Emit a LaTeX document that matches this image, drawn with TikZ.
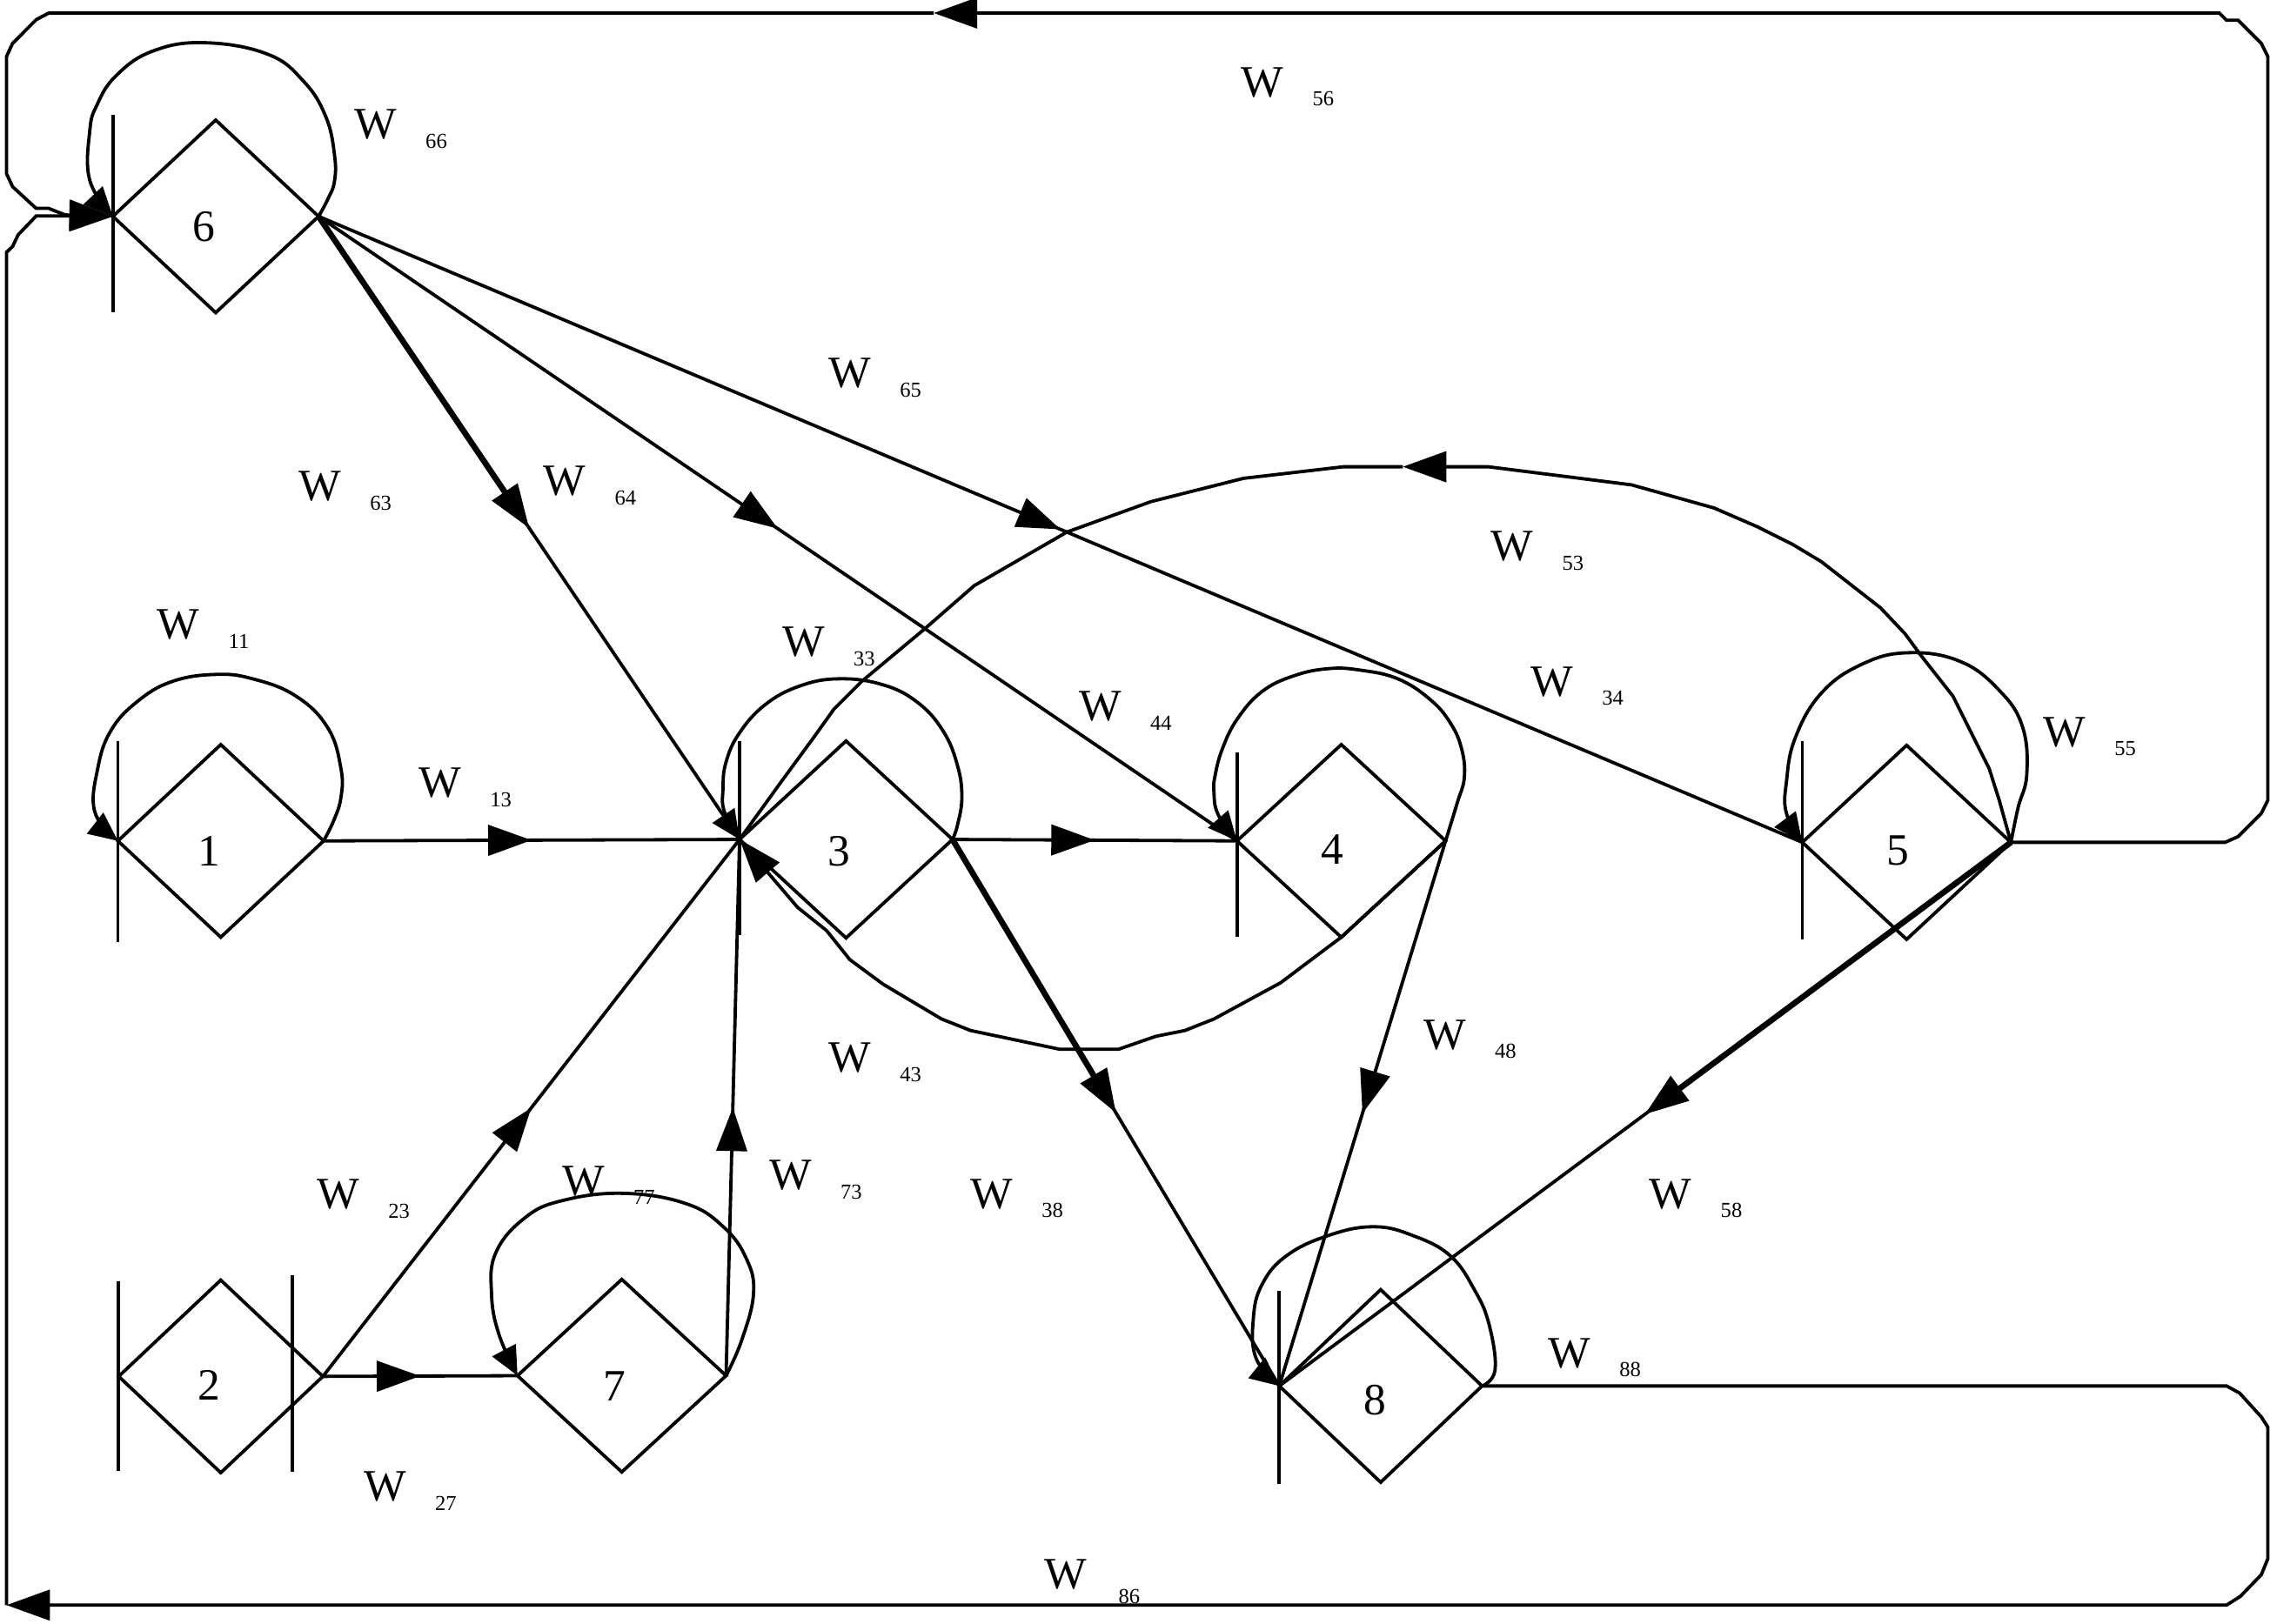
\documentclass[tikz,border=0pt]{standalone}
\usepackage{fontspec}
\setmainfont{Liberation Serif}
\usetikzlibrary{shapes.geometric,arrows.meta,decorations.markings,calc}
\tikzset{
  ln/.style={line width=0.65pt, line join=miter},
  thk/.style={line width=1.15pt},
  dia/.style={draw, diamond, minimum width=1.42cm, minimum height=1.33cm, inner sep=0pt, outer sep=0pt, line width=0.65pt},
  numtxt/.style={font=\fontsize{8.8}{10}\selectfont, inner sep=0pt},
  wtxt/.style={font=\fontsize{8.8}{10}\selectfont, inner sep=0pt},
  stxt/.style={font=\fontsize{4.2}{5}\selectfont, inner sep=0pt},
  ea/.style={-{Triangle[length=0.3cm,width=0.21cm]}},
  la/.style={-{Triangle[length=0.2cm,width=0.18cm]}},
  midarrow/.style={postaction={decorate}, decoration={markings, mark=at position #1 with {\arrow{Triangle[length=0.3cm,width=0.21cm]}}}},
}
\newcommand\wlab[3]{\node[wtxt] (w#1) at (#2,#3) {W}; \node[stxt] (s#1) at ($(w#1)+(42,11.5)$) {#1};}
\begin{document}
\begin{tikzpicture}[x=0.01cm, y=-0.01cm]
\useasboundingbox (0,0) rectangle (1568,1121.5);

% nodes
\node[dia] (n6) at (149,149.5) {};
\node[dia] (n1) at (152.5,581) {};
\node[dia, minimum width=1.47cm, minimum height=1.36cm] (n3) at (584.4,580) {};
\node[dia, minimum width=1.44cm] (n4) at (926.5,581) {};
\node[dia, minimum width=1.44cm, minimum height=1.34cm] (n5) at (1317,582) {};
\node[dia, minimum width=1.41cm] (n2) at (152.5,951) {};
\node[dia, minimum width=1.44cm] (n7) at (429.5,950.5) {};
\node[dia, minimum width=1.40cm] (n8) at (953.7,957.6) {};

\node[numtxt] at ([shift={(-8,7)}]n6.center) {6};
\node[numtxt] at ([shift={(-8,7)}]n1.center) {1};
\node[numtxt] at ([shift={(-5,8)}]n3.center) {3};
\node[numtxt] at ([shift={(-6,6)}]n4.center) {4};
\node[numtxt] at ([shift={(-6,6)}]n5.center) {5};
\node[numtxt] at ([shift={(-8,6)}]n2.center) {2};
\node[numtxt] at ([shift={(-5,7)}]n7.center) {7};
\node[numtxt] at ([shift={(-4,10)}]n8.center) {8};

% bars
\draw[ln] ([shift={(0,-70)}]n6.west) -- ([shift={(0,66)}]n6.west);
\draw[ln] ([shift={(0,-69)}]n1.west) -- ([shift={(0,70)}]n1.west);
\draw[ln] ([shift={(0,-68)}]n3.west) -- ([shift={(0,66)}]n3.west);
\draw[ln] ([shift={(0,-61)}]n4.west) -- ([shift={(0,66)}]n4.west);
\draw[ln] ([shift={(0,-70)}]n5.west) -- ([shift={(0,67)}]n5.west);
\draw[ln] ([shift={(0,-66)}]n8.west) -- ([shift={(0,68)}]n8.west);
\draw[ln] ([shift={(0,-66)}]n2.west) -- ([shift={(0,65)}]n2.west);
\draw[ln] ([shift={(-21,-70)}]n2.east) -- ([shift={(-21,66)}]n2.east);

% straight edges
\draw[ln, midarrow=0.5] (n1.east) -- (n3.west);
\draw[ln, midarrow=0.5] (n3.east) -- (n4.west);
\draw[ln, midarrow=0.5] (n2.east) -- (n7.west);
\draw[ln, midarrow=0.5] (n2.east) -- (n3.west);
\draw[ln, midarrow=0.5] (n7.east) -- (n3.west);
\draw[ln, midarrow=0.5] (n6.east) -- (n3.west);
\draw[ln, midarrow=0.5] (n6.east) -- (n4.west);
\draw[ln, midarrow=0.5] (n6.east) -- (n5.west);
\draw[ln, midarrow=0.5] (n3.east) -- (n8.west);
\draw[ln, midarrow=0.5] (n4.east) -- (n8.west);
\draw[ln, midarrow=0.5] (n5.east) -- (n8.west);
\draw[thk] (n6.east) -- ($(n6.east)!0.47!(n3.west)$);
\draw[thk] (n3.east) -- ($(n3.east)!0.47!(n8.west)$);
\draw[thk] (n5.east) -- ($(n5.east)!0.47!(n8.west)$);

% W43
\draw[ln, ea] (n4.east) -- (n4.south) -- (884.6,679) -- (838.6,704) -- (818.5,712) -- (798.4,716) -- (772.5,725) -- (732.2,725) -- (670.4,712) -- (650.3,704) -- (610,680) -- (587,663) -- (571,643) -- (551,627) -- (n3.west);

% W53
\coordinate (a53) at (969,322.5);
\draw[ln, ea] (n5.east) -- (1381,553) -- (1374,531) -- (1349,481) -- (1327,453) -- (1316,438) -- (1299,420) -- (1258,388) -- (1238,376) -- (1214,364) -- (1184,351) -- (1127,335) -- (1028,322.5) -- (a53);
\draw[ln] (a53) -- (928,322.5) -- (859,330.5) -- (795,346.6) -- (737,367.6) -- (673,404.6) -- (638.5,434.7) -- (595,471) -- (576,490) -- (561,511) -- (539,541) -- (n3.west);

% W56
\coordinate (a56) at (645,9);
\draw[ln, ea] (n5.east) -- (1537,582) -- (1546,578) -- (1562,562) -- (1566.5,553) -- (1566.5,39) -- (1562,30) -- (1546,14) -- (1538,14) -- (1533,9) -- (a56);
\draw[ln, ea] (a56) -- (33.7,9) -- (25,13.6) -- (8.7,30) -- (4.5,39) -- (4.5,120) -- (8.7,129) -- (25,144) -- (33.7,144) -- (45,148.5) -- (n6.west);

% W86
\coordinate (b86) at (4.5,1109);
\draw[ln, ea] (n8.east) -- (1538,957.6) -- (1547,962.5) -- (1562,979) -- (1566.5,986) -- (1566.5,1077) -- (1562,1088) -- (1547.5,1103) -- (1538,1109) -- (b86);
\draw[ln, ea] (b86) -- (4.5,174.3) -- (8.7,170.3) -- (12.5,162.3) -- (25,149.2) -- (45,149.2) -- (n6.west);

% loops
\draw[ln, la] plot[smooth, tension=0.7] coordinates {(n1.east) ([shift={(78,-14)}]n1.center) ([shift={(83,-30)}]n1.center) ([shift={(83,-50)}]n1.center) ([shift={(74,-78)}]n1.center) ([shift={(52,-100)}]n1.center) ([shift={(22,-112)}]n1.center) ([shift={(-4,-115)}]n1.center) ([shift={(-34,-110)}]n1.center) ([shift={(-58,-96)}]n1.center) ([shift={(-76,-76)}]n1.center) ([shift={(-85,-50)}]n1.center) ([shift={(-87,-20)}]n1.center) (n1.west)};
\draw[ln, la] plot[smooth, tension=0.7] coordinates {(n3.east) ([shift={(77,-10)}]n3.center) ([shift={(80,-29)}]n3.center) ([shift={(77,-51)}]n3.center) ([shift={(67,-75)}]n3.center) ([shift={(49,-95)}]n3.center) ([shift={(25,-107)}]n3.center) ([shift={(-5,-111)}]n3.center) ([shift={(-32,-106)}]n3.center) ([shift={(-56,-93)}]n3.center) ([shift={(-74,-73)}]n3.center) ([shift={(-83,-53)}]n3.center) ([shift={(-85,-35)}]n3.center) ([shift={(-84,-19)}]n3.center) (n3.west)};
\draw[ln, la] plot[smooth, tension=0.7] coordinates {(n4.east) ([shift={(80,-26)}]n4.center) ([shift={(85,-44)}]n4.center) ([shift={(83,-64)}]n4.center) ([shift={(75,-82)}]n4.center) ([shift={(61,-98)}]n4.center) ([shift={(39,-112)}]n4.center) ([shift={(13,-118)}]n4.center) ([shift={(-9,-119)}]n4.center) ([shift={(-33,-114)}]n4.center) ([shift={(-55,-103)}]n4.center) ([shift={(-72,-84)}]n4.center) ([shift={(-82,-64)}]n4.center) ([shift={(-87,-46)}]n4.center) ([shift={(-88,-34)}]n4.center) ([shift={(-85,-18)}]n4.center) (n4.west)};
\draw[ln, la] plot[smooth, tension=0.7] coordinates {(n5.east) ([shift={(77,-24)}]n5.center) ([shift={(83,-47)}]n5.center) ([shift={(80,-80)}]n5.center) ([shift={(64,-105)}]n5.center) ([shift={(37,-125)}]n5.center) ([shift={(1,-131)}]n5.center) ([shift={(-31,-123)}]n5.center) ([shift={(-59,-103)}]n5.center) ([shift={(-77,-72)}]n5.center) ([shift={(-83,-42)}]n5.center) ([shift={(-83,-20)}]n5.center) (n5.west)};
\draw[ln, la] plot[smooth, tension=0.7] coordinates {(n6.east) ([shift={(77,-11)}]n6.center) ([shift={(82,-24)}]n6.center) ([shift={(82,-43)}]n6.center) ([shift={(76,-69)}]n6.center) ([shift={(61,-93)}]n6.center) ([shift={(36,-112)}]n6.center) ([shift={(-8,-120)}]n6.center) ([shift={(-44,-114)}]n6.center) ([shift={(-69,-97)}]n6.center) ([shift={(-82,-77)}]n6.center) ([shift={(-87,-59)}]n6.center) ([shift={(-87,-25)}]n6.center) (n6.west)};
\draw[ln, la] plot[smooth, tension=0.7] coordinates {(n7.east) ([shift={(83,-25)}]n7.center) ([shift={(91,-57)}]n7.center) ([shift={(86,-81)}]n7.center) ([shift={(70,-103)}]n7.center) ([shift={(44,-119)}]n7.center) ([shift={(1,-126)}]n7.center) ([shift={(-41,-121)}]n7.center) ([shift={(-67,-109)}]n7.center) ([shift={(-87,-85)}]n7.center) ([shift={(-90,-57)}]n7.center) ([shift={(-85,-29)}]n7.center) (n7.west)};
\draw[ln, la] plot[smooth, tension=0.7] coordinates {(n8.east) ([shift={(79,-11)}]n8.center) ([shift={(75,-42)}]n8.center) ([shift={(65,-66)}]n8.center) ([shift={(48,-90)}]n8.center) ([shift={(22,-104)}]n8.center) ([shift={(-5,-110)}]n8.center) ([shift={(-36,-104)}]n8.center) ([shift={(-65,-90)}]n8.center) ([shift={(-82,-70)}]n8.center) ([shift={(-88,-46)}]n8.center) ([shift={(-86,-19)}]n8.center) (n8.west)};

% labels
\wlab{56}{872}{57}
\wlab{66}{259.4}{86}
\wlab{65}{587}{258}
\wlab{63}{221}{336}
\wlab{64}{390}{332.5}
\wlab{53}{1044.5}{377.6}
\wlab{11}{123}{431.7}
\wlab{33}{555}{443.7}
\wlab{34}{1072}{471}
\wlab{44}{760}{488}
\wlab{55}{1426}{506}
\wlab{13}{304}{541}
\wlab{48}{998}{715}
\wlab{43}{587}{731}
\wlab{77}{403}{816}
\wlab{73}{546}{812}
\wlab{23}{233.6}{825.3}
\wlab{38}{685}{825}
\wlab{58}{1154}{825}
\wlab{88}{1084}{935}
\wlab{27}{266}{1027}
\node[wtxt] (w86) at (736,1088) {W};
\node[stxt] (s86) at ($(w86)+(44,15)$) {86};
\end{tikzpicture}
\end{document}
